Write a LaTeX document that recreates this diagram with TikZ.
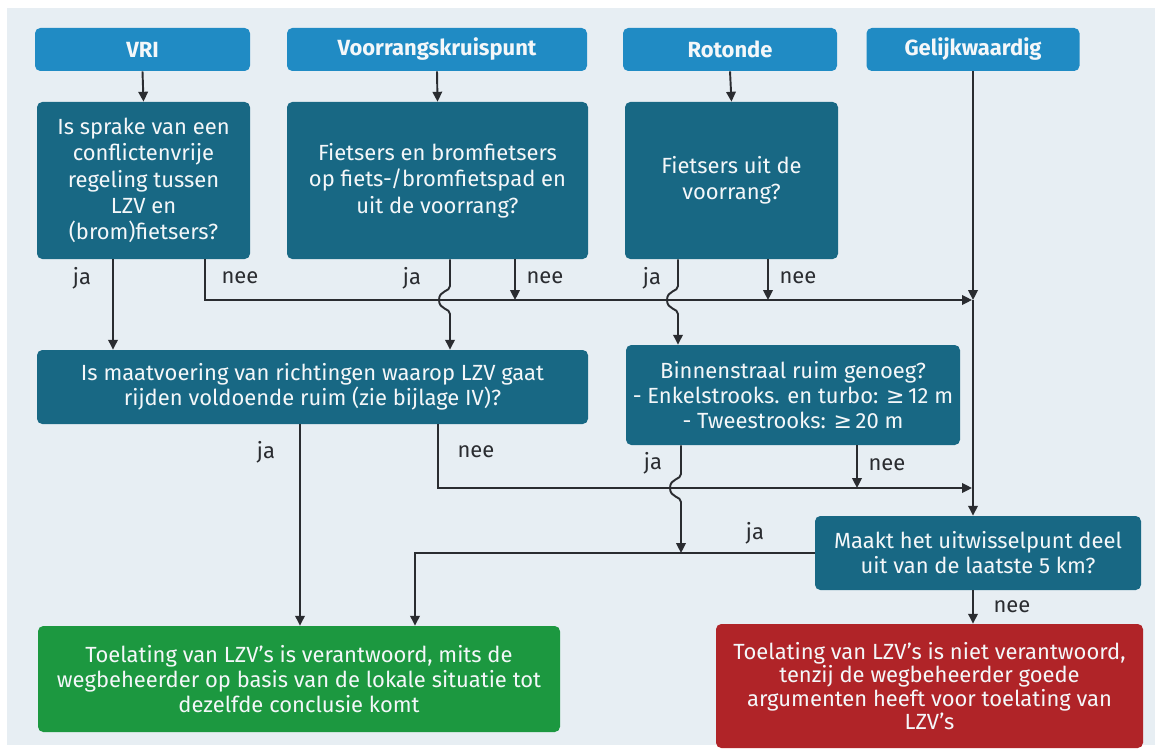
\documentclass[tikz,border=0pt]{standalone}
\usepackage{fontspec}
\setmainfont{Fira Sans}
\newfontfamily\symfont{DejaVu Sans}
\usetikzlibrary{arrows.meta,calc}
\definecolor{bg}{RGB}{231,238,243}
\definecolor{hdr}{RGB}{32,139,196}
\definecolor{qbox}{RGB}{24,104,132}
\definecolor{okgreen}{RGB}{28,152,64}
\definecolor{nored}{RGB}{176,36,40}
\definecolor{ln}{RGB}{42,44,48}
\definecolor{txt}{RGB}{244,247,249}
\begin{document}
\begin{tikzpicture}[x=0.02cm,y=-0.02cm,
  font=\fontsize{12.5}{14.2}\selectfont,
  sz/.style 2 args={minimum width=#1*0.02cm, minimum height=#2*0.02cm},
  box/.style={rounded corners=3pt, text=txt, align=center, inner sep=0pt},
  header/.style={box, fill=hdr, font=\fontsize{12.5}{14}\selectfont\bfseries},
  question/.style={box, fill=qbox},
  tallq/.style={question, font=\fontsize{12.5}{15}\selectfont},
  okbox/.style={box, fill=okgreen},
  nobox/.style={box, fill=nored, font=\fontsize{12.5}{13.3}\selectfont},
  wire/.style={draw=ln, line width=1.1pt},
  arr/.style={wire, -{Triangle[width=5.4pt,length=5.6pt]}},
  lbl/.style={text=ln, font=\fontsize{12.5}{14}\selectfont, inner sep=0pt}
]
\fill[white] (0,0) rectangle (1155,753);
\fill[bg] (7,8) rectangle (1155,745);
\useasboundingbox (0,0) rectangle (1155,753);

% headers
\node[header, sz={215}{43}] (hvri) at (142.5,49.5) {VRI};
\node[header, sz={300}{43}] (hvk) at (437,49.5) {Voorrangskruispunt};
\node[header, sz={214}{43}] (hrot) at (730,49.5) {Rotonde};
\node[header, sz={213}{43}] (hgel) at (973,49.5) {Gelijkwaardig};

% questions
\node[tallq, sz={213}{157}] (qvri) at (143.5,180.5) {Is sprake van een\\conflictenvrije\\regeling tussen\\LZV en\\(brom)fietsers?};
\node[tallq, sz={301}{157}] (qvk) at (437.5,180.5) {Fietsers en bromfietsers\\op fiets-/bromfietspad en\\uit de voorrang?};
\node[tallq, sz={213}{157}] (qrot) at (731.5,180.5) {Fietsers uit de\\voorrang?};
\node[question, sz={551}{74}] (maat) at (312.5,387) {Is maatvoering van richtingen waarop LZV gaat\\rijden voldoende ruim (zie bijlage IV)?};
\node[question, sz={334}{100}] (bin) at (793,395) {Binnenstraal ruim genoeg?\\- Enkelstrooks. en turbo: {\symfont ≥}\,12 m\\- Tweestrooks: {\symfont ≥}\,20 m};
\node[question, sz={326}{74}] (maakt) at (978,553) {Maakt het uitwisselpunt deel\\uit van de laatste 5 km?};

% outcomes
\node[okbox, sz={522}{106}] (ok) at (299,679) {Toelating van LZV's is verantwoord, mits de\\wegbeheerder op basis van de lokale situatie tot\\dezelfde conclusie komt};
\node[nobox, sz={427}{124}] (no) at (929.5,686) {Toelating van LZV's is niet verantwoord,\\tenzij de wegbeheerder goede\\argumenten heeft voor toelating van\\LZV's};

% helper coordinates
\coordinate (xa) at (113,0);
\coordinate (xb) at (205,0);
\coordinate (xc) at (450,0);
\coordinate (xd) at (515,0);
\coordinate (xe) at (678,0);
\coordinate (xf) at (768,0);
\coordinate (xg) at (973,0);
\coordinate (xh) at (300,0);
\coordinate (xi) at (438,0);
\coordinate (xj) at (681,0);
\coordinate (xk) at (857,0);
\coordinate (xl) at (415,0);
\coordinate (j1) at (973,300);
\coordinate (j2) at (973,488);

% header -> question
\draw[arr] (hvri.south) -- (qvri.north);
\draw[arr] (hvk.south) -- (qvk.north);
\draw[arr] (hrot.south) -- (qrot.north);

% Gelijkwaardig column
\draw[arr] (hgel.south) -- (j1);
\draw[arr] (j1) -- (maakt.north -| xg);

% VRI question
\draw[arr] (qvri.south -| xa) -- (maat.north -| xa);
\draw[arr] (qvri.south -| xb) -- (205,300) -- ($(j1)+(-1,0)$);

% Voorrangskruispunt question
\draw[arr] (qvk.south -| xc) -- (450,286) .. controls (450,292) and (439,290) .. (439,300) .. controls (439,310) and (450,308) .. (450,314) -- (maat.north -| xc);
\draw[arr] (qvk.south -| xd) -- (515,300);

% Rotonde question
\draw[arr] (qrot.south -| xe) -- (678,286) .. controls (678,292) and (667,290) .. (667,300) .. controls (667,310) and (678,308) .. (678,314) -- (bin.north -| xe);
\draw[arr] (qrot.south -| xf) -- (768,300);

% maatvoering
\draw[arr] (maat.south -| xh) -- (ok.north -| xh);
\draw[arr] (maat.south -| xi) -- (438,488) -- ($(j2)+(-1,0)$);

% binnenstraal
\draw[arr] (bin.south -| xj) -- (681,474) .. controls (681,480) and (670,478) .. (670,488) .. controls (670,498) and (681,496) .. (681,502) -- (681,553);
\draw[arr] (bin.south -| xk) -- (857,488);

% maakt
\draw[arr] (maakt.west) -- (415,553) -- (ok.north -| xl);
\draw[arr] (maakt.south -| xg) -- (no.north -| xg);

% labels
\node[lbl] (l1) at (82,278) {ja};
\node[lbl] (l2) at (240,278) {nee};
\node[lbl] (l3) at (412,278) {ja};
\node[lbl] (l4) at (545,278) {nee};
\node[lbl] (l5) at (652,278) {ja};
\node[lbl] (l6) at (798,278) {nee};
\node[lbl] (l7) at (266,452) {ja};
\node[lbl] (l8) at (476,452) {nee};
\node[lbl] (l9) at (653,463) {ja};
\node[lbl] (l10) at (887,465) {nee};
\node[lbl] (l11) at (755,533) {ja};
\node[lbl] (l12) at (1012,607) {nee};
\end{tikzpicture}
\end{document}
